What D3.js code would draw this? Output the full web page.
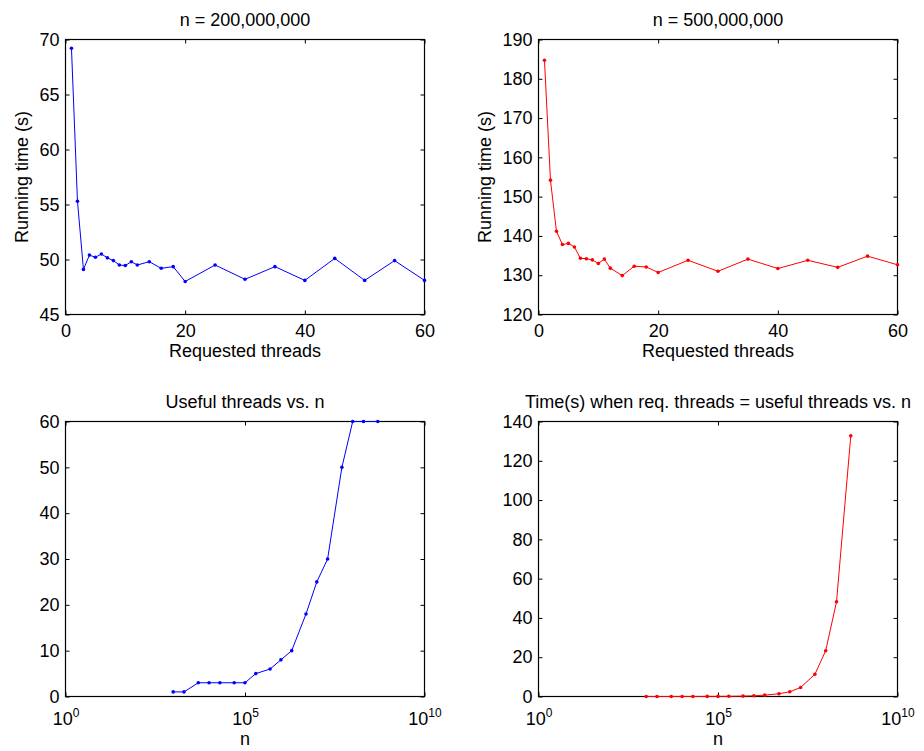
<!DOCTYPE html>
<html>
<head>
<meta charset="utf-8">
<script src="https://cdn.jsdelivr.net/npm/d3@7"></script>
<style>
  body { margin: 0; background: #fff; }
  svg { font-family: "Liberation Sans", Arial, sans-serif; }
  .tick text { font-size: 18px; fill: #000; }
</style>
</head>
<body>
<div id="chart"></div>
<script>
//====================== Data ======================================================

const threads = [1, 2, 3, 4, 5, 6, 7, 8, 9, 10, 11, 12, 14, 16, 18, 20, 25, 30, 35, 40, 45, 50, 55, 60];
const time200M = [69.2, 55.3, 49.1, 50.4, 50.2, 50.5, 50.15, 49.9, 49.5, 49.45, 49.8, 49.5, 49.8, 49.2, 49.35, 48.0, 49.5, 48.2, 49.35, 48.1, 50.1, 48.1, 49.9, 48.1];
const time500M = [184.7, 154.2, 141.2, 137.8, 138.1, 137.2, 134.3, 134.2, 133.9, 133.0, 134.1, 131.8, 129.9, 132.3, 132.1, 130.7, 133.8, 131.0, 134.1, 131.7, 133.8, 132.0, 134.85, 132.65];

const nValues = [1e3, 2e3, 5e3, 1e4, 2e4, 5e4, 1e5, 2e5, 5e5, 1e6, 2e6, 5e6, 1e7, 2e7, 5e7, 1e8, 2e8, 5e8];
const usefulThreads = [1, 1, 3, 3, 3, 3, 3, 5, 6, 8, 10, 18, 25, 30, 50, 60, 60, 60];
const timeUseful = [0.001, 0.002, 0.004, 0.01, 0.02, 0.04, 0.06, 0.1, 0.2, 0.35, 0.7, 1.4, 2.4, 4.6, 11.3, 23.3, 48.2, 132.7];

const threadTicks = [0, 20, 40, 60];
const logTicks = [1, 1e5, 1e10];

//====================== Layout ====================================================

const W = 924;
const H = 751;
const pw = 359;
const ph = 275;
const tick = 4;

const svg = d3.select("#chart").append("svg")
  .attr("width", W)
  .attr("height", H);

const panels = [
  { x: 65.5, y: 39.5, data: threads, ys: time200M, color: "#0000ff",
    xDomain: [0, 60], yDomain: [45, 70], yTicks: d3.range(45, 71, 5),
    title: "n = 200,000,000", xLabel: "Requested threads", yLabel: "Running time (s)", yLabelX: 27.5, log: false },
  { x: 538.5, y: 39.5, data: threads, ys: time500M, color: "#ff0000",
    xDomain: [0, 60], yDomain: [120, 190], yTicks: d3.range(120, 191, 10),
    title: "n = 500,000,000", xLabel: "Requested threads", yLabel: "Running time (s)", yLabelX: 491, log: false },
  { x: 65.5, y: 421.5, data: nValues, ys: usefulThreads, color: "#0000ff",
    xDomain: [1, 1e10], yDomain: [0, 60], yTicks: d3.range(0, 61, 10),
    title: "Useful threads vs. n", xLabel: "n", log: true },
  { x: 538.5, y: 421.5, data: nValues, ys: timeUseful, color: "#ff0000",
    xDomain: [1, 1e10], yDomain: [0, 140], yTicks: d3.range(0, 141, 20),
    title: "Time(s) when req. threads = useful threads vs. n", xLabel: "n", log: true }
];

panels.forEach(p => drawPanel(p));

function drawPanel(p) {
  let xScale = p.log
    ? d3.scaleLog().domain(p.xDomain).range([0, pw])
    : d3.scaleLinear().domain(p.xDomain).range([0, pw]);

  let yScale = d3.scaleLinear()
    .domain(p.yDomain)
    .range([ph, 0]);

  let g = svg.append("g")
    .attr("transform", "translate(" + p.x + "," + p.y + ")");

  let xTickVals = p.log ? logTicks : threadTicks;

  // inward ticks on all four sides, MATLAB style

  g.append("g").call(d3.axisLeft(yScale).tickValues(p.yTicks).tickSize(-tick).tickPadding(6));
  g.append("g").attr("transform", "translate(" + pw + ",0)")
    .call(d3.axisRight(yScale).tickValues(p.yTicks).tickSize(-tick).tickFormat(""));

  let xAxis = g.append("g").attr("transform", "translate(0," + ph + ")")
    .call(d3.axisBottom(xScale).tickValues(xTickVals).tickSize(-tick).tickPadding(p.log ? 16 : 10)
      .tickFormat(p.log ? (() => "") : d3.format("d")));
  g.append("g")
    .call(d3.axisTop(xScale).tickValues(xTickVals).tickSize(-tick).tickFormat(""));

  g.selectAll(".domain").remove();
  g.selectAll(".tick line").attr("stroke", "#000");

  // 10^k labels

  if (p.log) {
    xAxis.selectAll(".tick text").each(function(d) {
      let t = d3.select(this);
      t.append("tspan").text("10");
      t.append("tspan")
        .attr("dy", "-0.65em")
        .attr("font-size", "12px")
        .text(Math.round(Math.log10(d)));
    });
  }

  g.append("rect")
    .attr("width", pw)
    .attr("height", ph)
    .attr("fill", "none")
    .attr("stroke", "#000")
    .attr("stroke-width", 1.2);

  let pts = p.data.map((d, i) => [d, p.ys[i]]);

  let line = d3.line()
    .x(d => xScale(d[0]))
    .y(d => yScale(d[1]));

  g.append("path")
    .attr("d", line(pts))
    .attr("fill", "none")
    .attr("stroke", p.color)
    .attr("stroke-width", 1);

  g.selectAll("circle.dot").data(pts).enter().append("circle")
    .attr("class", "dot")
    .attr("cx", d => xScale(d[0]))
    .attr("cy", d => yScale(d[1]))
    .attr("r", 1.8)
    .attr("fill", p.color);

  // titles and axis labels

  g.append("text")
    .attr("x", pw / 2)
    .attr("y", -14)
    .attr("text-anchor", "middle")
    .attr("font-size", "18px")
    .text(p.title);

  g.append("text")
    .attr("x", pw / 2)
    .attr("y", p.log ? 323.5 : 317)
    .attr("text-anchor", "middle")
    .attr("font-size", "18px")
    .text(p.xLabel);

  if (p.yLabel) {
    g.append("text")
      .attr("transform", "translate(" + (p.yLabelX - p.x) + "," + (ph / 2) + ") rotate(-90)")
      .attr("text-anchor", "middle")
      .attr("font-size", "18px")
      .text(p.yLabel);
  }
}
</script>
</body>
</html>
